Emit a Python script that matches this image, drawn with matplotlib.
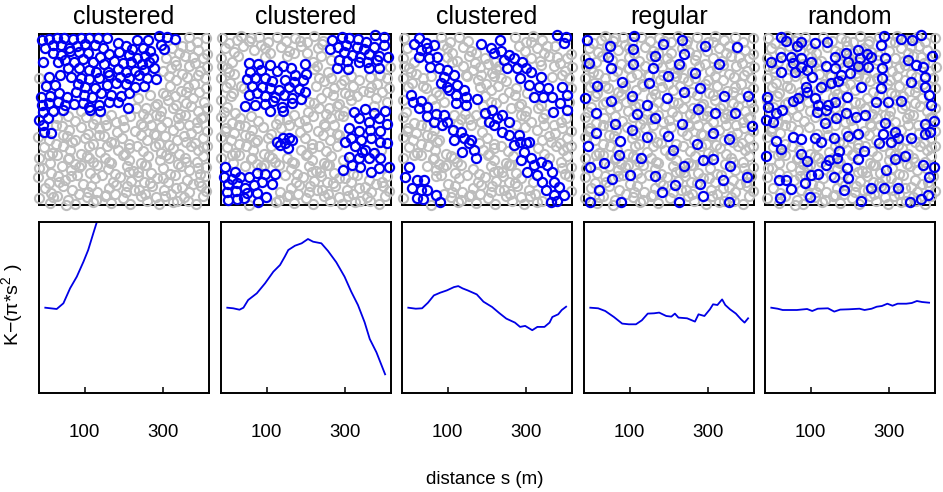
import numpy as np
import matplotlib.pyplot as plt

plt.rcParams['font.family'] = ['Liberation Sans', 'DejaVu Sans']
plt.rcParams['mathtext.default'] = 'regular'

# panel titles
titles = ['clustered', 'clustered', 'clustered', 'regular', 'random']

# point maps, map units (x east, y measured down from the top edge)
gray_pts = [
    (30, 40), (52, 55), (86, 33), (112, 47), (140, 36), (168, 52), (196, 35), (222, 48), (250, 40), (284, 52),
    (306, 34), (334, 47), (362, 35), (396, 50), (418, 32), (444, 46), (478, 36), (502, 52), (530, 40),
    (38, 70), (66, 82), (92, 64), (126, 76), (148, 60), (175, 84), (208, 66), (230, 78), (266, 62), (286, 83),
    (318, 68), (340, 80), (374, 64), (394, 78), (428, 70), (450, 84), (482, 62), (506, 76), (532, 86),
    (26, 98), (60, 112), (78, 92), (108, 104), (136, 116), (160, 96), (190, 108), (224, 94), (244, 114), (272, 100),
    (304, 110), (326, 92), (356, 106), (388, 116), (410, 98), (438, 108), (466, 92), (498, 114), (520, 100),
    (44, 128), (66, 146), (100, 124), (122, 138), (156, 128), (182, 146), (206, 122), (238, 136), (258, 126), (294, 144),
    (316, 124), (348, 140), (370, 122), (402, 138), (424, 128), (458, 146), (480, 124), (512, 138), (534, 126),
    (28, 158), (54, 174), (88, 160), (110, 152), (142, 168), (166, 156), (198, 176), (220, 152), (252, 164), (276, 178),
    (300, 154), (336, 168), (358, 158), (386, 176), (418, 152), (440, 166), (474, 156), (494, 176), (526, 160),
    (42, 186), (64, 204), (96, 190), (126, 200), (148, 182), (180, 196), (202, 184), (236, 206), (258, 186), (290, 196),
    (312, 182), (346, 200), (366, 188), (400, 204), (422, 184), (454, 198), (476, 186), (510, 202), (530, 190),
    (26, 226), (56, 214), (80, 236), (114, 222), (134, 210), (168, 226), (190, 238), (224, 216), (246, 230), (272, 212),
    (306, 234), (326, 220), (362, 210), (382, 236), (416, 224), (436, 212), (470, 234), (492, 218), (524, 232),
    (44, 246), (68, 264), (102, 252), (124, 242), (156, 258), (178, 244), (212, 266), (232, 250), (266, 242), (288, 262),
    (320, 250), (342, 266), (376, 244), (396, 258), (432, 250), (452, 266), (486, 242), (506, 258), (532, 248),
    (28, 276), (60, 294), (84, 280), (116, 272), (138, 288), (170, 276), (192, 296), (226, 282), (246, 270), (280, 286),
    (302, 274), (336, 296), (356, 280), (392, 272), (412, 292), (446, 280), (466, 270), (502, 292), (522, 276),
    (42, 308), (66, 324), (98, 302), (120, 316), (154, 306), (176, 326), (208, 310), (230, 300), (264, 322), (284, 306),
    (318, 318), (340, 302), (374, 326), (394, 306), (430, 316), (450, 300), (484, 324), (504, 310), (532, 318),
    (26, 336), (58, 346), (80, 356), (114, 332), (136, 346), (168, 338), (190, 356), (224, 334), (244, 350), (278, 340),
    (300, 356), (334, 330), (354, 346), (390, 356), (408, 334), (444, 346), (464, 332), (498, 354), (520, 338),
    (44, 366), (68, 384), (102, 362), (122, 374), (156, 386), (178, 364), (212, 380), (232, 362), (266, 374), (286, 386),
    (322, 364), (342, 378), (376, 362), (396, 384), (432, 368), (450, 386), (486, 362), (506, 376), (532, 364),
    (28, 398), (62, 414), (82, 390), (116, 402), (136, 416), (172, 394), (190, 410), (226, 398), (246, 414), (282, 390),
    (300, 404), (336, 414), (356, 392), (392, 406), (410, 390), (446, 416), (466, 398), (502, 412), (520, 392),
    (42, 428), (64, 444), (98, 422), (126, 436), (148, 426), (182, 444), (202, 420), (236, 432), (256, 446), (292, 424),
    (312, 438), (346, 420), (366, 444), (402, 428), (422, 446), (456, 422), (478, 436), (512, 446), (530, 426),
    (26, 456), (58, 474), (86, 452), (108, 464), (142, 450), (162, 476), (196, 460), (218, 450), (252, 472), (272, 456),
    (306, 468), (326, 452), (362, 474), (382, 458), (416, 470), (436, 450), (472, 466), (492, 476), (526, 454),
    (46, 488), (66, 504), (100, 482), (128, 494), (150, 506), (184, 484), (204, 500), (238, 490), (258, 506), (294, 484),
    (314, 496), (348, 508), (368, 482), (404, 494), (424, 508), (458, 486), (478, 500), (514, 482), (530, 498),
    (28, 518), (62, 534), (82, 512), (116, 524), (136, 538), (172, 516), (192, 530), (226, 512), (246, 534), (282, 520),
    (302, 536), (336, 514), (354, 528), (390, 538), (408, 514), (444, 528), (464, 516), (500, 536), (520, 514),
    (74, 46), (160, 70), (245, 84), (330, 58), (410, 50), (490, 96), (50, 140), (140, 190), (215, 150), (305, 132),
    (395, 166), (470, 200), (90, 230), (180, 270), (260, 290), (350, 250), (440, 240), (515, 280), (40, 318), (128, 350),
    (210, 330), (300, 370), (380, 330), (470, 350), (60, 390), (155, 420), (240, 410), (325, 440), (420, 400), (505, 430),
    (90, 470), (175, 500), (260, 480), (345, 470), (440, 490), (110, 540), (200, 524), (290, 500), (380, 516), (475, 528),
    (118, 40), (265, 48), (458, 62), (30, 122), (175, 110), (282, 118), (360, 90), (505, 150), (88, 184), (230, 196),
    (320, 160), (410, 210), (150, 232), (35, 262), (292, 232), (480, 300), (200, 282), (365, 300), (100, 330), (255, 355),
    (420, 360), (30, 430), (180, 398), (350, 420), (470, 410), (125, 452), (300, 440), (400, 460), (510, 470), (70, 515),
    (230, 510), (330, 495), (430, 532), (160, 130), (440, 120), (380, 270), (120, 400), (520, 365), (260, 150), (80, 300),
]

blue_clustered_1 = [
    (38, 45), (60, 42), (82, 40), (105, 38), (130, 42), (155, 40), (180, 38), (205, 40), (232, 38), (265, 55),
    (322, 45), (355, 45), (388, 32), (412, 35), (438, 42),
    (48, 70), (72, 60), (95, 60), (118, 68), (142, 62), (168, 58), (198, 60), (222, 68), (290, 62), (308, 72),
    (340, 70), (362, 78), (395, 60), (405, 72),
    (70, 85), (95, 90), (122, 78), (150, 80), (175, 85), (212, 95), (240, 88), (268, 82), (300, 90), (322, 100),
    (348, 92), (372, 98),
    (42, 112), (85, 110), (108, 105), (135, 110), (160, 102), (190, 112), (225, 118), (255, 108), (280, 115),
    (305, 112), (338, 118), (360, 112),
    (115, 130), (148, 130), (178, 135), (200, 140), (235, 140), (265, 132), (290, 140), (318, 138), (345, 135), (375, 128),
    (60, 155), (92, 150), (125, 155), (155, 158), (180, 162), (210, 160), (240, 150), (272, 155), (300, 158),
    (330, 150), (352, 160), (380, 162),
    (50, 182), (78, 180), (145, 178), (168, 185), (198, 188), (232, 180), (260, 175), (290, 178), (318, 185), (345, 182),
    (35, 215), (62, 212), (90, 205), (112, 215), (140, 200), (165, 210), (188, 215), (215, 205), (245, 210),
    (275, 212), (300, 205),
    (38, 240), (60, 235), (85, 230), (108, 240), (135, 238), (162, 235), (180, 245), (210, 240), (240, 232),
    (265, 230), (295, 250),
    (40, 262), (70, 258), (100, 255), (182, 255), (212, 258),
    (30, 285), (55, 280), (40, 300), (45, 320), (65, 325),
]

blue_clustered_2 = [
    (360, 45), (390, 35), (412, 40), (438, 42), (462, 50), (490, 30), (515, 35), (378, 65), (402, 60), (435, 65),
    (455, 72), (485, 65), (515, 60), (355, 72), (395, 80), (420, 90), (445, 95), (472, 88), (500, 92), (528, 95),
    (382, 105), (405, 108), (440, 112), (465, 110), (495, 105), (375, 130), (408, 132), (470, 130), (500, 128),
    (112, 115), (138, 118), (175, 120), (212, 122), (238, 130), (280, 118), (115, 140), (148, 135), (195, 138),
    (250, 150), (282, 148), (105, 162), (130, 158), (160, 160), (180, 168), (220, 165), (245, 172), (272, 165),
    (120, 182), (150, 185), (175, 190), (200, 195), (230, 185), (262, 192), (280, 200), (110, 210), (135, 205),
    (160, 212), (190, 215), (215, 210), (240, 220), (268, 222), (98, 242), (130, 240), (160, 238), (182, 228),
    (210, 245), (240, 235), (175, 258), (212, 258),
    (195, 350), (212, 340), (232, 338), (218, 355), (205, 360), (228, 368), (240, 345),
    (425, 262), (458, 252), (485, 265), (518, 258), (440, 280), (470, 290), (500, 280), (525, 298), (412, 310),
    (440, 318), (475, 315), (505, 318), (418, 340), (448, 345), (478, 340), (505, 352), (525, 355), (400, 352),
    (430, 362), (460, 375), (450, 380), (485, 385), (412, 395), (440, 398), (470, 400), (505, 398), (392, 435),
    (420, 420), (445, 425), (478, 440), (500, 428), (530, 425),
    (40, 425), (68, 440), (35, 455), (60, 462), (85, 455), (112, 455), (135, 445), (160, 448), (188, 448),
    (48, 478), (75, 475), (100, 488), (125, 480), (150, 470), (180, 478), (45, 500), (72, 498), (105, 505),
    (135, 505), (162, 515), (48, 525), (75, 522), (95, 520), (138, 530),
]

blue_clustered_3 = [
    (60, 58), (75, 40), (95, 55), (120, 60), (80, 75), (100, 70), (75, 95), (105, 100), (128, 95), (108, 125),
    (135, 130), (160, 135), (150, 155), (180, 150), (140, 175), (160, 185), (190, 180), (210, 195), (185, 210),
    (215, 215), (250, 222), (185, 235), (215, 240), (165, 195),
    (262, 58), (292, 68), (318, 45), (300, 85), (320, 78), (345, 90), (330, 105), (360, 100), (385, 110), (340, 128),
    (370, 130), (395, 130), (410, 140), (440, 155), (378, 160), (405, 180), (435, 185), (462, 190), (420, 215),
    (448, 215), (475, 215), (505, 185), (518, 210), (498, 235), (520, 255), (478, 262), (490, 30), (515, 35), (510, 55),
    (52, 210), (58, 232), (80, 228), (75, 250), (100, 245), (98, 272), (125, 268), (150, 270), (120, 290), (145, 300),
    (178, 315), (200, 320), (180, 345), (210, 340), (232, 345), (205, 380), (240, 375), (245, 400), (225, 355), (160, 290),
    (272, 265), (295, 255), (285, 290), (310, 280), (325, 270), (345, 290), (300, 300), (325, 320), (345, 330),
    (375, 330), (405, 352), (360, 360), (390, 380), (380, 405), (410, 400), (420, 420), (440, 410), (458, 420),
    (475, 440), (400, 440), (430, 450), (445, 470), (480, 470), (455, 495), (495, 485), (480, 510), (510, 510),
    (490, 528), (470, 530), (378, 350), (395, 355),
    (45, 425), (32, 455), (70, 465), (90, 465), (55, 490), (80, 495), (100, 495), (68, 520), (88, 522), (125, 510),
    (138, 530),
]

blue_regular = [
    (33, 45), (103, 63), (175, 33), (262, 58), (317, 45), (388, 62), (483, 66),
    (38, 113), (97, 97), (172, 73), (236, 93), (323, 87),
    (105, 128), (172, 118), (232, 130), (308, 117), (428, 117), (275, 152), (358, 145),
    (62, 183), (138, 172), (218, 175),
    (28, 218), (105, 228), (167, 213), (273, 218), (325, 202), (372, 190), (443, 212), (516, 212),
    (212, 240), (365, 252), (60, 264), (182, 268), (238, 280), (418, 263), (478, 264),
    (118, 298), (319, 298), (528, 302),
    (60, 325), (168, 315), (213, 335), (275, 332), (410, 323), (458, 342),
    (35, 362), (132, 348), (362, 357), (292, 376),
    (130, 390), (195, 398), (380, 405), (412, 403), (85, 413), (42, 425), (325, 422), (462, 423),
    (107, 461), (162, 451), (237, 454), (297, 479), (372, 477), (440, 466), (513, 457),
    (68, 495), (258, 502), (380, 512), (42, 530), (135, 532), (310, 530), (460, 532),
]

blue_random = [
    (70, 35), (85, 48), (118, 62), (128, 50), (172, 55), (208, 50), (378, 32), (430, 42), (462, 45), (488, 30),
    (38, 112), (70, 95), (98, 95), (128, 98), (105, 115), (128, 125), (160, 112), (205, 122), (232, 95), (265, 85),
    (300, 75), (305, 100), (328, 88), (340, 95), (382, 100), (368, 60), (372, 128), (330, 125), (300, 122), (270, 112),
    (450, 105), (475, 120), (495, 125), (522, 92),
    (70, 142), (112, 140), (148, 135), (162, 155), (230, 130), (250, 150), (275, 145), (218, 175), (188, 185),
    (240, 168), (308, 185), (372, 160), (370, 190), (458, 170), (500, 155), (502, 185),
    (145, 185), (148, 200), (172, 220), (180, 240), (210, 240), (205, 255), (232, 230), (268, 215), (355, 230),
    (390, 232), (428, 228), (512, 210), (518, 240), (28, 215), (30, 245), (105, 228), (120, 218),
    (55, 265), (72, 255), (25, 285), (45, 290), (178, 262), (235, 278), (265, 265), (295, 275), (322, 270),
    (200, 295), (380, 295), (500, 298), (528, 288), (515, 320),
    (105, 335), (128, 342), (55, 348), (68, 372), (170, 340), (190, 352), (228, 338), (270, 332), (300, 328),
    (362, 355), (375, 328), (398, 350), (410, 322), (420, 338), (458, 340), (500, 328),
    (25, 392), (130, 388), (148, 408), (212, 405), (242, 378), (238, 398), (205, 420), (300, 402), (318, 378),
    (410, 402), (440, 392), (495, 420), (528, 425),
    (160, 450), (180, 448), (62, 465), (85, 465), (100, 492), (140, 475), (228, 455), (270, 460), (268, 428),
    (385, 435), (512, 455),
    (65, 520), (155, 515), (258, 495), (310, 528), (340, 490), (378, 490), (420, 488), (455, 530), (490, 522), (510, 510),
]

blue_sets = [blue_clustered_1, blue_clustered_2, blue_clustered_3, blue_regular, blue_random]

# K - pi*s^2 curves (distance s in m)
s_1 = [0, 29, 46, 63, 80, 97, 109, 122, 131, 145]
k_1 = [0.3, -1, 4.7, 19.7, 31.3, 46.3, 58, 74.7, 86, 105]

s_2 = [0, 15, 31, 41, 53, 75, 96, 117, 134, 146, 155, 172, 189, 205, 218, 239, 256, 277, 298, 315, 332, 349,
       362, 379, 401]
k_2 = [0.3, -0.3, -1.7, 0.3, 8, 14.7, 24.7, 36.3, 43, 51.3, 58, 62.3, 64.7, 69, 66.3, 64.7, 57, 45.7, 31.3,
       16.3, 3, -14.3, -31, -44.3, -66.3]

s_3 = [0, 19, 35, 50, 65, 81, 98, 116, 127, 138, 151, 174, 191, 213, 231, 249, 271, 284, 297, 315, 328, 346,
       359, 366, 381, 390, 401]
k_3 = [0.3, -0.7, -0.3, 5.3, 12.6, 15.3, 17.6, 20.9, 21.9, 19.6, 17.6, 13.6, 6.3, 1, -5, -10.6, -14.6, -18.9,
       -17.9, -22.2, -18.9, -18.9, -14.6, -9, -6.3, -2, 1.3]

s_4 = [0, 20, 38, 60, 81, 98, 116, 131, 146, 162, 175, 193, 206, 215, 224, 246, 266, 275, 290, 304, 312, 323,
       335, 343, 355, 370, 383, 392, 401]
k_4 = [0.3, -0.3, -3, -9, -15.6, -16.3, -16.3, -12.3, -5.6, -5.3, -4.6, -8, -8.6, -5.6, -9.6, -10.3, -13.6,
       -6.3, -8, -1.3, 3.7, 3, 8.6, 3, -1.3, -5.6, -11.3, -14.6, -10.3]

s_5 = [0, 16, 29, 65, 91, 104, 118, 144, 160, 175, 197, 224, 237, 255, 268, 281, 295, 308, 321, 343, 357, 370,
       383, 401]
k_5 = [0.3, -0.7, -2, -2, -1, -3, -0.7, -0.3, -3.6, -1.6, -1.3, -0.7, -2, -0.7, 1.3, 2, 4.3, 2.3, 4.3, 4.3,
       5, 7, 6, 5.3]

curves = [(s_1, k_1), (s_2, k_2), (s_3, k_3), (s_4, k_4), (s_5, k_5)]

# how far a blue circle hides the grey ones under it
cover = [22, 22, 22, 10, 10]

W, H = 943, 492
fig = plt.figure(figsize=(W / 100, H / 100), dpi=100)

lefts = [39, 221, 402, 584, 765]
map_x0 = [29, 27, 24, 24, 21]
pw = 170
gray = np.array(gray_pts, dtype=float)

for i in range(5):
    l = lefts[i]
    # map panel
    ax = fig.add_axes([l / W, 1 - 205 / H, pw / W, 171 / H])
    blue = np.array(blue_sets[i], dtype=float)
    d = np.sqrt(((gray[:, None, :] - blue[None, :, :]) ** 2).sum(axis=2)).min(axis=1)
    g = gray[d > cover[i]]
    ax.plot(g[:, 0], g[:, 1], 'o', mfc='none', mec='#bdbdbd', ms=6.6, mew=1.5, clip_on=False, zorder=3)
    ax.plot(blue[:, 0], blue[:, 1], 'o', mfc='none', mec='#0000f0', ms=6.6, mew=1.6, clip_on=False, zorder=4)
    ax.set_xlim(map_x0[i], map_x0[i] + 510)
    ax.set_ylim(540, 27)
    ax.set_xticks([])
    ax.set_yticks([])
    for sp in ax.spines.values():
        sp.set_linewidth(1.4)
    fig.text((l + pw / 2) / W, 1 - 24 / H, titles[i], ha='center', va='baseline', fontsize=18)

    # K function panel
    ax2 = fig.add_axes([l / W, 1 - 393 / H, pw / W, 171 / H])
    s, k = curves[i]
    ax2.plot(s, k, color='#0000e6', lw=1.3)
    ax2.set_xlim(-16, 416)
    ax2.set_ylim(-85, 86)
    ax2.set_xticks([100, 300])
    ax2.set_yticks([])
    ax2.tick_params(axis='x', direction='in', length=4, width=1.1, pad=22, labelsize=13.5)
    for sp in ax2.spines.values():
        sp.set_linewidth(1.4)

fig.text(12 / W, 1 - 305 / H, 'K\u2212(\u03c0*s$^{2}$ )', rotation=90, ha='center', va='center', fontsize=14)
fig.text(485 / W, 1 - 479 / H, 'distance s (m)', ha='center', va='center', fontsize=13.5)

fig.savefig('out.png', dpi=100)
